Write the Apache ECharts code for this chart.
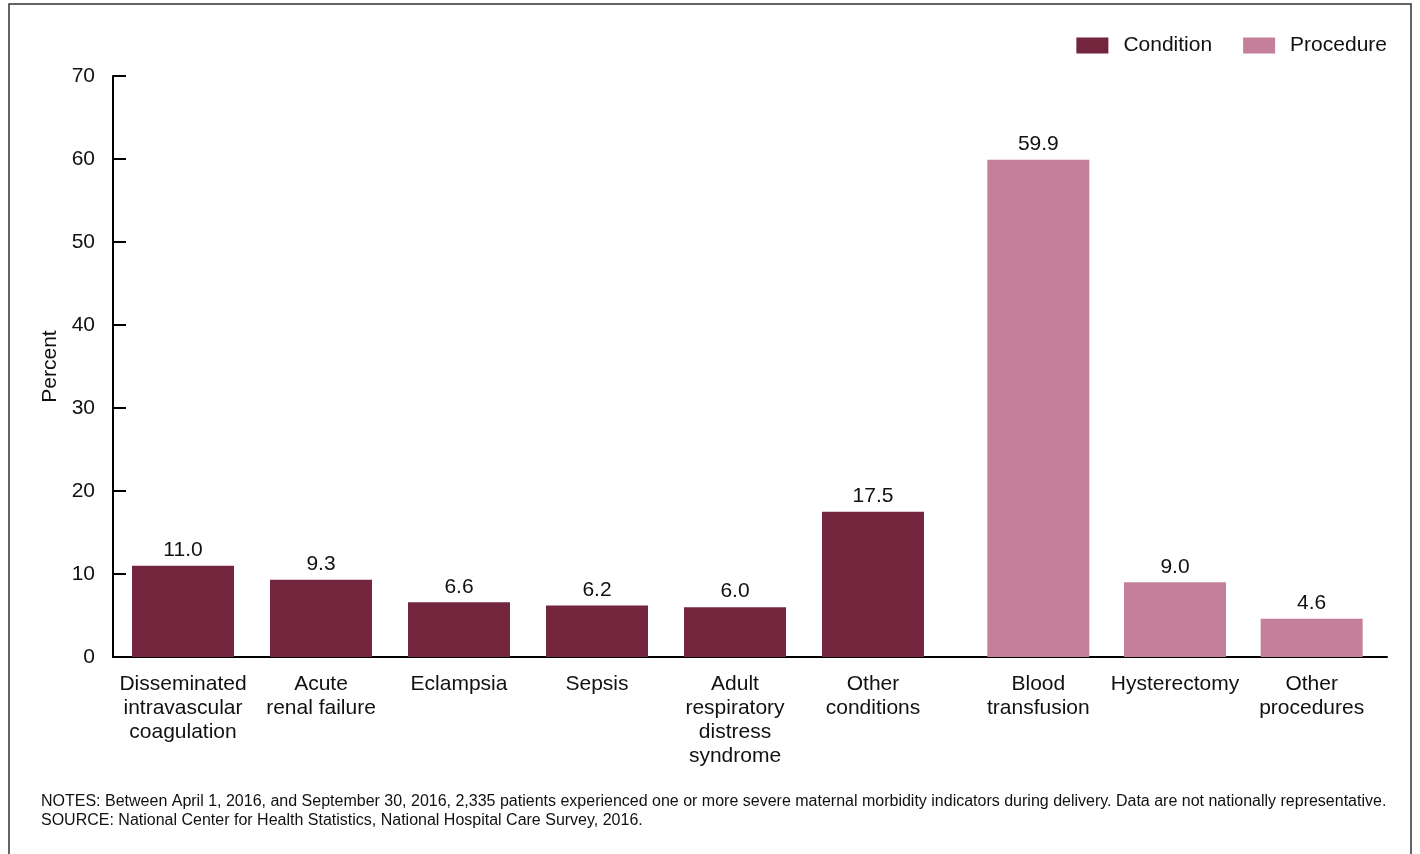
<!DOCTYPE html>
<html>
<head>
<meta charset="utf-8">
<title>Severe maternal morbidity indicators, 2016</title>
<script src="https://cdn.jsdelivr.net/npm/echarts@6/dist/echarts.min.js"></script>
<style>
  html, body { margin: 0; padding: 0; background: #fff; }
  #chart { width: 1420px; height: 854px; }
</style>
</head>
<body>
<div id="chart"></div>
<script>
// Indicator categories, split into conditions and procedures
const conditionCategories = [
  'Disseminated\nintravascular\ncoagulation',
  'Acute\nrenal failure',
  'Eclampsia',
  'Sepsis',
  'Adult\nrespiratory\ndistress\nsyndrome',
  'Other\nconditions'
];
const procedureCategories = [
  'Blood\ntransfusion',
  'Hysterectomy',
  'Other\nprocedures'
];

// Percent of patients with each indicator
const conditionValues = [11.0, 9.3, 6.6, 6.2, 6.0, 17.5];
const procedureValues = [59.9, 9.0, 4.6];

// Y axis range
const yMin = 0;
const yMax = 70;
const yStep = 10;

const notesText = 'NOTES: Between April 1, 2016, and September 30, 2016, 2,335 patients experienced one or more severe maternal morbidity indicators during delivery. Data are not nationally representative.';
const sourceText = 'SOURCE: National Center for Health Statistics, National Hospital Care Survey, 2016.';

const FONT = '"Liberation Sans", Arial, Helvetica, sans-serif';
const TEXT = '#111';
const CONDITION_COLOR = '#74253e';
const PROCEDURE_COLOR = '#c47f9a';

const chart = echarts.init(document.getElementById('chart'), null, { renderer: 'canvas' });

const hiddenY = (gridIndex) => ({
  type: 'value', gridIndex, min: yMin, max: yMax, interval: yStep, show: false
});

const groupX = (gridIndex, data) => ({
  type: 'category',
  gridIndex,
  data,
  axisLine: { show: false },
  axisTick: { show: false },
  axisLabel: {
    interval: 0,
    color: TEXT,
    fontFamily: FONT,
    fontSize: 21,
    lineHeight: 24,
    margin: 15
  }
});

const valueLabel = {
  show: true,
  position: 'top',
  distance: 5,
  color: TEXT,
  fontFamily: FONT,
  fontSize: 21,
  formatter: (p) => Number(p.value).toFixed(1)
};

chart.setOption({
  animation: false,
  textStyle: { fontFamily: FONT },
  title: {
    text: notesText + '\n' + sourceText,
    left: 41,
    top: 792,
    padding: 0,
    textStyle: {
      color: TEXT,
      fontFamily: FONT,
      fontSize: 16,
      fontWeight: 'normal',
      lineHeight: 19
    }
  },
  legend: {
    right: 28,
    top: 30,
    itemWidth: 32,
    itemHeight: 16,
    itemGap: 31,
    icon: 'rect',
    data: ['Condition', 'Procedure'],
    textStyle: {
      color: TEXT,
      fontFamily: FONT,
      fontSize: 21,
      padding: [0, 0, 0, 10]
    }
  },
  graphic: [{
    type: 'rect',
    silent: true,
    shape: { x: 9, y: 4, width: 1402, height: 900 },
    style: { fill: 'none', stroke: '#333', lineWidth: 1.5 }
  }],
  grid: [
    // frame with the axes
    { left: 113, right: 33, top: 76, bottom: 197 },
    // conditions
    { left: 114, width: 828, top: 76, bottom: 197 },
    // procedures
    { left: 970, width: 410, top: 76, bottom: 197 }
  ],
  xAxis: [
    {
      type: 'category',
      gridIndex: 0,
      data: [''],
      axisLine: { show: true, lineStyle: { color: '#000', width: 2 } },
      axisTick: { show: false },
      axisLabel: { show: false }
    },
    groupX(1, conditionCategories),
    groupX(2, procedureCategories)
  ],
  yAxis: [
    {
      type: 'value',
      gridIndex: 0,
      min: yMin,
      max: yMax,
      interval: yStep,
      name: 'Percent',
      nameLocation: 'middle',
      nameGap: 52,
      nameTextStyle: { color: TEXT, fontFamily: FONT, fontSize: 21 },
      axisLine: { show: true, lineStyle: { color: '#000', width: 2 } },
      axisTick: { show: true, inside: true, length: 13, lineStyle: { color: '#000', width: 2 } },
      axisLabel: { color: TEXT, fontFamily: FONT, fontSize: 21, margin: 18 },
      splitLine: { show: false }
    },
    hiddenY(1),
    hiddenY(2)
  ],
  series: [
    {
      name: 'Condition',
      type: 'bar',
      xAxisIndex: 1,
      yAxisIndex: 1,
      barWidth: 102,
      itemStyle: { color: CONDITION_COLOR },
      label: valueLabel,
      data: conditionValues
    },
    {
      name: 'Procedure',
      type: 'bar',
      xAxisIndex: 2,
      yAxisIndex: 2,
      barWidth: 102,
      itemStyle: { color: PROCEDURE_COLOR },
      label: valueLabel,
      data: procedureValues
    }
  ]
});
</script>
</body>
</html>
